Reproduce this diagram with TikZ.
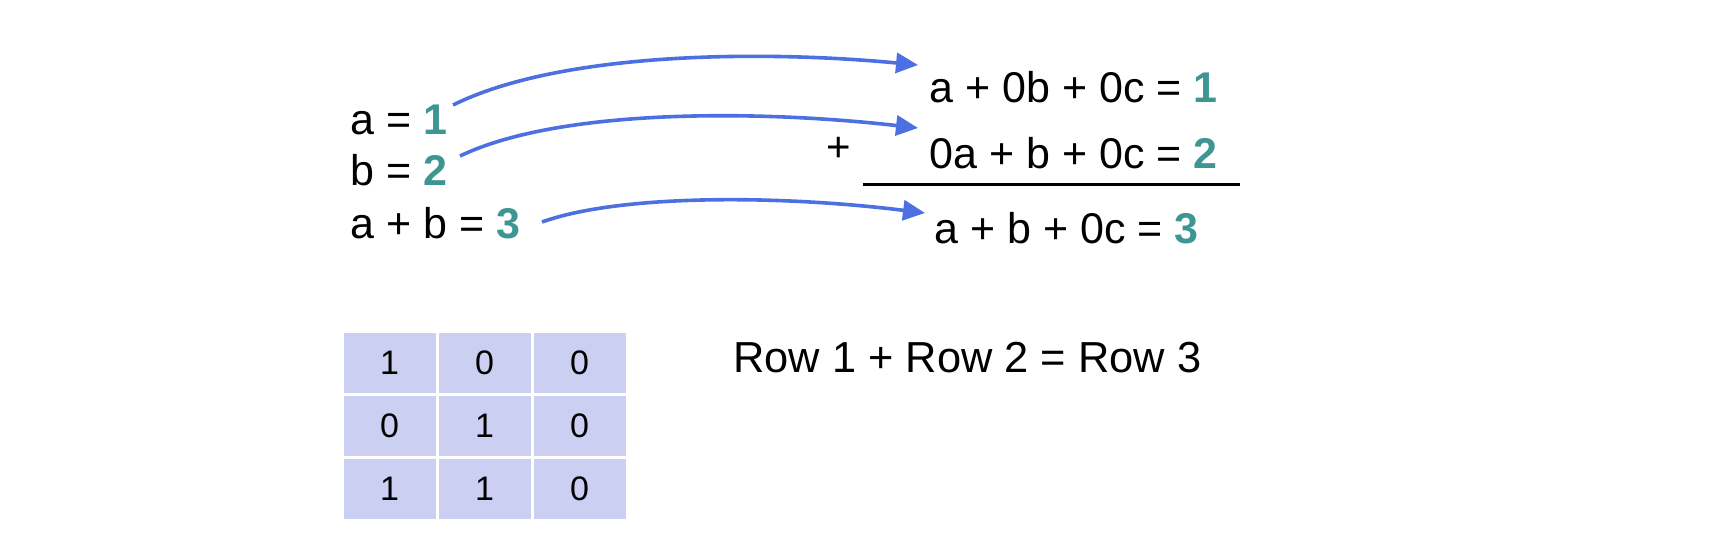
\documentclass[tikz,border=0pt]{standalone}
\usepackage{fontspec}
\setmainfont{Liberation Sans}
\usetikzlibrary{arrows.meta}
\definecolor{tealnum}{RGB}{62,150,147}
\definecolor{arrowblue}{RGB}{76,112,226}
\definecolor{cellfill}{RGB}{203,208,242}
\tikzset{
  eq/.style={inner sep=0pt, anchor=base west, font=\fontsize{21.5}{25}\selectfont},
  cell/.style={draw=white, line width=1.5pt, fill=cellfill, minimum width=47.5pt, minimum height=31.5pt, inner sep=0pt, font=\fontsize{17}{20}\selectfont},
  conn/.style={draw=arrowblue, line width=1.8pt, -{Triangle[length=11pt,width=10pt]}},
}
\newcommand{\tn}[1]{\textcolor{tealnum}{\textbf{#1}}}
\begin{document}
\begin{tikzpicture}[x=0.5pt,y=-0.5pt]
\useasboundingbox (0,0) rectangle (1716,546);
% left equations
\node[eq] (l1) at (350,134) {a = \tn{1}};
\node[eq] (l2) at (350,185) {b = \tn{2}};
\node[eq] (l3) at (350,238) {a + b = \tn{3}};
% right equations
\node[eq] (r1) at (929,102) {a + 0b + 0c = \tn{1}};
\node[eq] (r2) at (929,168) {0a + b + 0c = \tn{2}};
\node[eq] (r3) at (934,243) {a + b + 0c = \tn{3}};
\node[inner sep=0pt, font=\fontsize{21}{25}\selectfont] (plus) at (839,149) {+};
\coordinate (la) at (863,184);
\coordinate (lb) at (1240,184);
\draw[line width=1.5pt] (la) -- (lb);
% arrows
\coordinate (s1) at (453,105);
\coordinate (s2) at (460,156);
\coordinate (s3) at (542,222);
\coordinate (e1) at (918,65);
\coordinate (e2) at (918,128);
\coordinate (e3) at (925,213);
\draw[conn] (s1) .. controls (560,52) and (760,50) .. (e1);
\draw[conn] (s2) .. controls (560,108) and (760,110) .. (e2);
\draw[conn] (s3) .. controls (620,194) and (780,195) .. (e3);
% table
\node[cell] (c11) at (389.5,363) {1};
\node[cell] (c12) at (484.5,363) {0};
\node[cell] (c13) at (579.5,363) {0};
\node[cell] (c21) at (389.5,426) {0};
\node[cell] (c22) at (484.5,426) {1};
\node[cell] (c23) at (579.5,426) {0};
\node[cell] (c31) at (389.5,489) {1};
\node[cell] (c32) at (484.5,489) {1};
\node[cell] (c33) at (579.5,489) {0};
% row relation
\node[inner sep=0pt, anchor=base west, font=\fontsize{21.7}{26}\selectfont] (rowtxt) at (733,372) {Row 1 + Row 2 = Row 3};
\end{tikzpicture}
\end{document}
